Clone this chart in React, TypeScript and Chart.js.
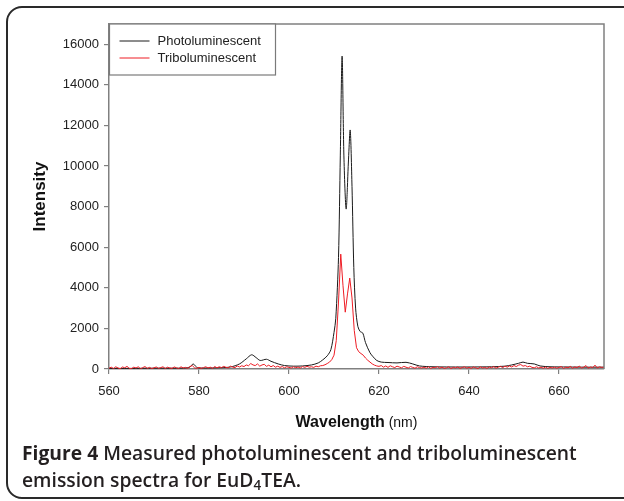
import React, { useEffect, useRef } from "react";
import { Chart, registerables } from "chart.js";

Chart.register(...registerables);

// Photoluminescent spectrum (wavelength nm, intensity)
const photoWavelengths = [
  560, 565, 570, 575, 577, 578, 578.7, 579.4, 580, 584, 587, 589, 590.5, 591.7, 592.7, 593.6, 595, 596, 597.6, 599,
  601, 603, 605, 606.5, 607.5, 608.5, 609.3, 610, 610.4, 611, 611.4, 611.8, 612.2, 612.7, 613.2, 613.6, 614, 614.4,
  614.8, 615.3, 615.8, 616.4, 617, 618, 618.7, 619.5, 620.5, 622, 624, 626, 627.5, 629, 632, 636, 640, 645, 648,
  649.5, 651, 652, 653, 654.5, 655.8, 658, 662, 666, 670,
];
const photoValues = [
  30, 30, 40, 40, 50, 100, 250, 100, 50, 60, 100, 250, 500, 700, 560, 420, 480, 380, 250, 170,
  140, 150, 200, 300, 450, 650, 950, 1800, 2500, 5500, 10500, 15420, 10500, 7880, 10200, 11770, 9000, 5000,
  3000, 2100, 1850, 1770, 1300, 800, 600, 420, 340, 320, 300, 330, 250, 150, 110, 100, 100, 110, 140,
  200, 280, 340, 280, 250, 150, 110, 100, 90, 90,
];

// Triboluminescent spectrum, sampled every 0.5 nm from 560 nm
const triboStart = 560;
const triboStep = 0.5;
const triboValues = [
  40, 90, 20, 110, 50, 10, 100, 60, 130, 30, 20, 90, 50, 110, 10, 70, 120, 30, 80, 20,
  60, 100, 30, 70, 110, 20, 90, 50, 30, 100, 60, 20, 110, 50, 80, 30, 120, 170, 60, 30,
  80, 30, 70, 110, 50, 90, 30, 120, 60, 110, 70, 130, 80, 60, 140, 90, 70, 150, 100, 160,
  120, 200, 160, 270, 200, 170, 250, 140, 200, 230, 130, 190, 110, 170, 90, 140, 80, 120, 60, 110,
  80, 50, 110, 60, 100, 50, 120, 80, 130, 90,
  110, 80, 140, 110, 160, 170, 210, 270, 340, 460,
  680, 1400, 3300, 5660, 4100, 2800, 3700, 4480, 3500, 1900, 1050, 850, 760, 680, 540, 430, 340, 250, 190, 150,
  130, 170, 90, 150, 80, 160, 110, 70, 140, 100, 60, 130, 90, 50, 120, 80, 40, 110, 70, 50,
  90, 40, 110, 30, 80, 60, 120, 40, 90, 30, 60, 110, 20, 80, 50, 100, 30, 70, 110, 40,
  80, 30, 100, 60, 20, 110, 50, 80, 30, 100, 60, 120, 40, 90, 130, 70, 140, 90, 150, 100,
  170, 120, 190, 220, 140, 170, 110, 140, 80, 60, 110, 50, 90, 40, 100, 30, 80, 50, 90, 40,
  80, 120, 30, 90, 60, 130, 40, 100, 70, 140, 50, 90, 170, 40, 100, 70, 190, 50, 110, 80,
  90,
];

const seriesNames = ["Photoluminescent", "Triboluminescent"];
const seriesColors = ["#1a1a1a", "#ee1c24"];
const xTicks = [560, 580, 600, 620, 640, 660];
const yTicks = [0, 2000, 4000, 6000, 8000, 10000, 12000, 14000, 16000];

const AXIS_COLOR = "#808080";
const FONT = "'Liberation Sans', Arial, sans-serif";

const decorPlugin = {
  id: "decor",
  afterDraw(chart: any) {
    const { ctx, chartArea } = chart;
    const { left, right, top, bottom } = chartArea;
    ctx.save();
    // top and right frame
    ctx.strokeStyle = AXIS_COLOR;
    ctx.lineWidth = 1.5;
    ctx.beginPath();
    ctx.moveTo(left, top);
    ctx.lineTo(right, top);
    ctx.lineTo(right, bottom);
    ctx.stroke();

    // legend
    const lx = left + 0.5;
    const ly = top;
    ctx.fillStyle = "#ffffff";
    ctx.fillRect(lx, ly, 166, 51);
    ctx.strokeStyle = "#7a7a7a";
    ctx.lineWidth = 1.2;
    ctx.strokeRect(lx, ly, 166, 51);
    ctx.font = `13px ${FONT}`;
    ctx.textBaseline = "middle";
    ctx.textAlign = "left";
    seriesNames.forEach((name, i) => {
      const yy = ly + 17 + i * 17;
      ctx.strokeStyle = seriesColors[i];
      ctx.lineWidth = 1;
      ctx.beginPath();
      ctx.moveTo(lx + 10, yy);
      ctx.lineTo(lx + 40, yy);
      ctx.stroke();
      ctx.fillStyle = "#222";
      ctx.fillText(name, lx + 48, yy);
    });

    // y title
    ctx.save();
    ctx.translate(40, (top + bottom) / 2);
    ctx.rotate(-Math.PI / 2);
    ctx.font = `bold 17px ${FONT}`;
    ctx.textAlign = "center";
    ctx.textBaseline = "middle";
    ctx.fillStyle = "#111";
    ctx.fillText("Intensity", 0, 0);
    ctx.restore();

    // x title
    const boldPart = "Wavelength";
    const normPart = " (nm)";
    ctx.font = `bold 16px ${FONT}`;
    const w1 = ctx.measureText(boldPart).width;
    ctx.font = `14px ${FONT}`;
    const w2 = ctx.measureText(normPart).width;
    const cx = (left + right) / 2;
    const startX = cx - (w1 + w2) / 2;
    const by = bottom + 58;
    ctx.textBaseline = "alphabetic";
    ctx.textAlign = "left";
    ctx.fillStyle = "#111";
    ctx.font = `bold 16px ${FONT}`;
    ctx.fillText(boldPart, startX, by);
    ctx.font = `14px ${FONT}`;
    ctx.fillText(normPart, startX + w1, by);
    ctx.restore();
  },
};

export default function App() {
  const canvasRef = useRef<HTMLCanvasElement | null>(null);

  useEffect(() => {
    if (!canvasRef.current) return;
    const photoData = photoWavelengths.map((x, i) => ({ x, y: photoValues[i] }));
    const triboData = triboValues.map((y, i) => ({ x: triboStart + i * triboStep, y }));
    const chart = new Chart(canvasRef.current, {
      type: "line",
      data: {
        datasets: [
          {
            label: seriesNames[0],
            data: photoData,
            borderColor: seriesColors[0],
            borderWidth: 1,
            pointRadius: 0,
            tension: 0.3,
            order: 1,
          },
          {
            label: seriesNames[1],
            data: triboData,
            borderColor: seriesColors[1],
            borderWidth: 1,
            pointRadius: 0,
            tension: 0,
            order: 0,
          },
        ],
      },
      options: {
        animation: false,
        responsive: false,
        devicePixelRatio: 1,
        layout: { padding: { left: 0, right: 20, top: 24, bottom: 0 } },
        plugins: { legend: { display: false }, tooltip: { enabled: false } },
        scales: {
          x: {
            type: "linear",
            min: 560,
            max: 670,
            afterBuildTicks: (scale: any) => {
              scale.ticks = xTicks.map((v) => ({ value: v }));
            },
            afterFit: (scale: any) => {
              scale.height = 71;
            },
            grid: { drawOnChartArea: false, drawTicks: true, tickLength: 5, color: AXIS_COLOR, lineWidth: 1.2 },
            border: { color: AXIS_COLOR, width: 1.5 },
            ticks: {
              color: "#222",
              font: { family: FONT, size: 13 },
              padding: 10,
              maxRotation: 0,
              callback: (v: any) => String(v),
            },
          },
          y: {
            type: "linear",
            min: 0,
            max: 17000,
            afterBuildTicks: (scale: any) => {
              scale.ticks = yTicks.map((v) => ({ value: v }));
            },
            afterFit: (scale: any) => {
              scale.width = 109;
            },
            grid: { drawOnChartArea: false, drawTicks: true, tickLength: 5, color: AXIS_COLOR, lineWidth: 1.2 },
            border: { color: AXIS_COLOR, width: 1.5 },
            ticks: {
              color: "#222",
              font: { family: FONT, size: 13 },
              padding: 5,
              callback: (v: any) => String(v),
            },
          },
        },
      },
      plugins: [decorPlugin],
    });
    return () => chart.destroy();
  }, []);

  return (
    <div style={{ position: "absolute", left: 0, top: 0, width: 624, height: 501, overflow: "hidden", background: "#fff" }}>
      <div
        style={{
          position: "absolute",
          left: 6,
          top: 6,
          width: 680,
          height: 489,
          border: "2px solid #2a2a2a",
          borderRadius: 16,
        }}
      />
      <canvas ref={canvasRef} width={624} height={440} style={{ position: "absolute", left: 0, top: 0 }} />
      <div
        style={{
          position: "absolute",
          left: 22,
          top: 439,
          width: 600,
          fontFamily: "'Open Sans', 'Noto Sans', sans-serif",
          fontSize: 19.3,
          lineHeight: "27px",
          color: "#231f20",
          fontWeight: 600,
        }}
      >
        <div style={{ whiteSpace: "nowrap" }}>
          <span style={{ fontWeight: 700 }}>Figure 4</span> Measured photoluminescent and triboluminescent
        </div>
        <div style={{ whiteSpace: "nowrap" }}>
          emission spectra for EuD<sub style={{ fontSize: "0.7em", verticalAlign: "-0.25em", lineHeight: 0 }}>4</sub>TEA.
        </div>
      </div>
    </div>
  );
}
